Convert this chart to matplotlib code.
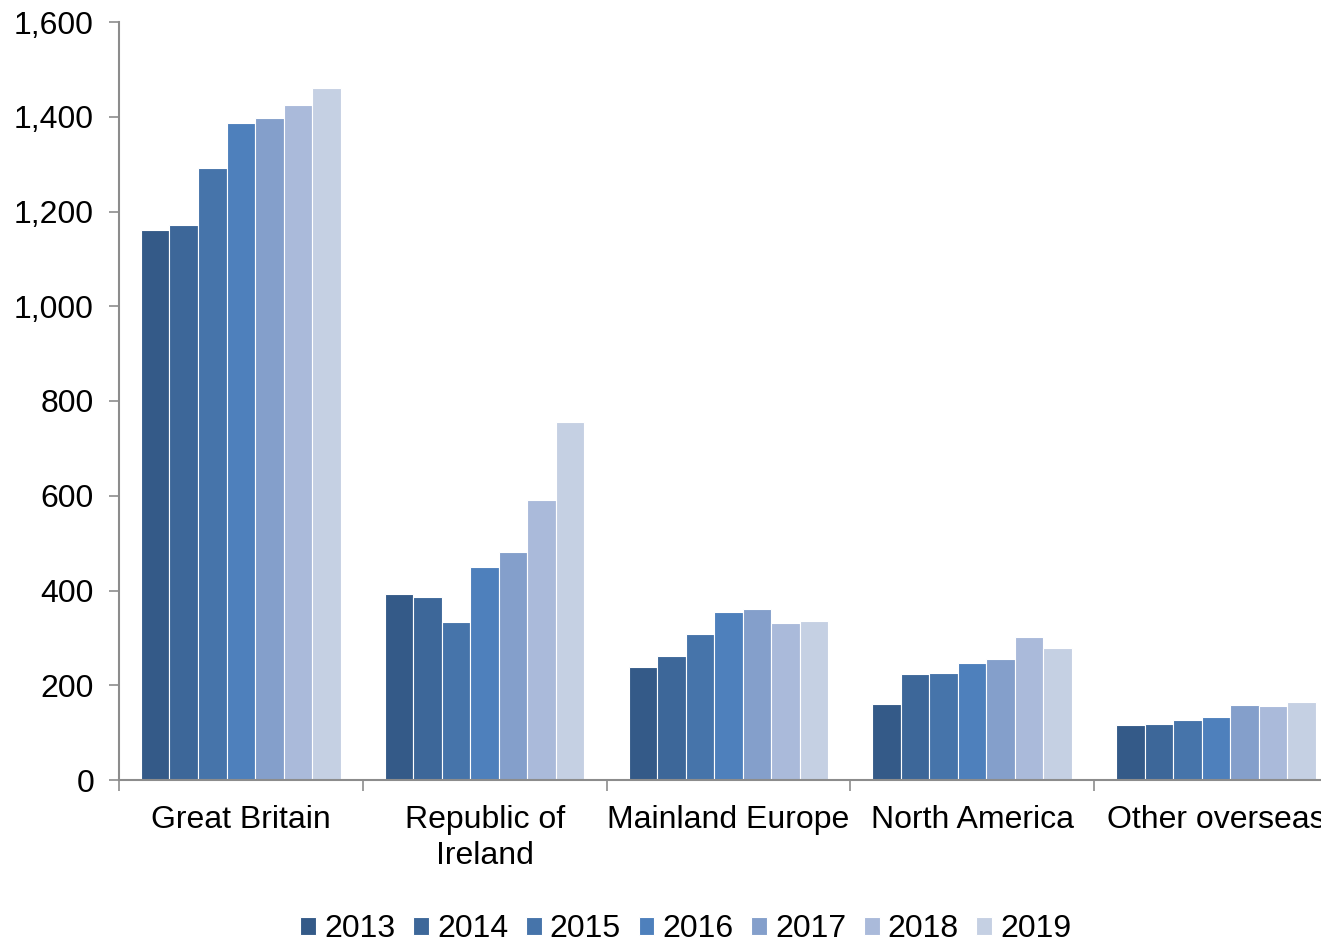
import numpy as np
import matplotlib.pyplot as plt
from matplotlib.ticker import FuncFormatter, FixedLocator

plt.rcParams['font.family'] = ['Liberation Sans', 'DejaVu Sans']

# data
regions = ["Great Britain", "Republic of\nIreland", "Mainland Europe", "North America", "Other overseas"]
years = ["2013", "2014", "2015", "2016", "2017", "2018", "2019"]
v2013 = [1161, 393, 239, 160, 117]
v2014 = [1172, 386, 262, 224, 119]
v2015 = [1292, 334, 308, 226, 127]
v2016 = [1387, 450, 355, 247, 132]
v2017 = [1398, 481, 361, 255, 158]
v2018 = [1425, 591, 331, 302, 156]
v2019 = [1461, 756, 336, 279, 164]
series = [v2013, v2014, v2015, v2016, v2017, v2018, v2019]
colours = ["#345A88", "#3D6799", "#4674AA", "#4E80BC", "#849FCB", "#AABADA", "#C5D0E3"]

fig = plt.figure(figsize=(13.21, 9.42), dpi=100)
ax = fig.add_axes([119/1321, 162/942, (1338-119)/1321, 758/942])

x = np.arange(len(regions))
w = 0.117
for i, vals in enumerate(series):
    ax.bar(x - 0.41 + w*(i + 0.5), vals, width=w, color=colours[i],
           edgecolor="white", linewidth=0.8, label=years[i])

ax.set_xlim(-0.5, 4.5)
ax.set_ylim(0, 1600)
ax.set_yticks(range(0, 1601, 200))
ax.yaxis.set_major_formatter(FuncFormatter(lambda v, p: f"{int(v):,}"))
ax.set_xticks(x)
ax.set_xticklabels(regions, linespacing=1.25)
ax.xaxis.set_minor_locator(FixedLocator(np.arange(-0.5, 4.6, 1)))

for s in ["top", "right"]:
    ax.spines[s].set_visible(False)
for s in ["left", "bottom"]:
    ax.spines[s].set_color("#8C8C8C")
    ax.spines[s].set_linewidth(1.5)

ax.tick_params(axis="y", length=7, width=1.2, color="#8C8C8C", labelsize=23, pad=11)
ax.tick_params(axis="x", which="major", length=0, labelsize=23, pad=18)
ax.tick_params(axis="x", which="minor", length=8, width=1.2, color="#8C8C8C")

fig.legend(loc="center", bbox_to_anchor=(686/1321, 1 - 929/942), ncol=7, frameon=False,
           fontsize=23, handlelength=0.5, handleheight=0.5, handletextpad=0.25,
           columnspacing=0.55)

fig.savefig("out.png", dpi=100)
